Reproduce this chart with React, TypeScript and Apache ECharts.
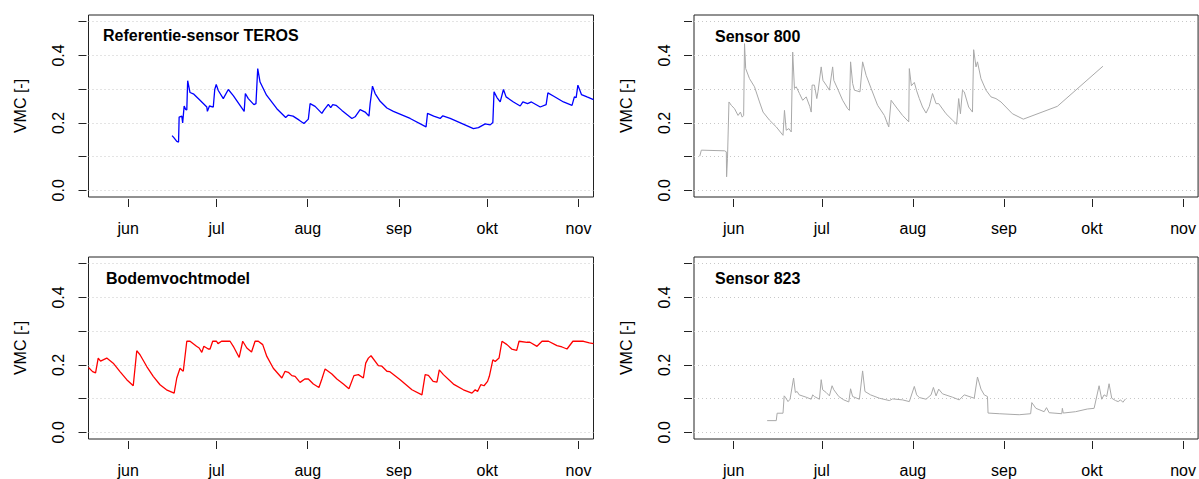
import React, { useEffect, useRef } from "react";
import * as echarts from "echarts";

const monthLabels = ["jun", "jul", "aug", "sep", "okt", "nov"];
// first day of each month, counted in days after 1 June
const monthStartDays = [0, 30, 61, 92, 122, 153];
const yTickValues = [0, 0.1, 0.2, 0.3, 0.4, 0.5];
const yLabelValues = [0, 0.2, 0.4];
const titles = ["Referentie-sensor TEROS", "Sensor 800", "Bodemvochtmodel", "Sensor 823"];
const yAxisTitle = "VMC [-]";

// [days after 1 June, VMC]
const teros: [number, number][] = [
  [14.9, 0.162], [15.5, 0.156], [16.5, 0.145], [17.1, 0.143], [17.3, 0.217], [18.2, 0.22], [18.5, 0.2],
  [19.0, 0.25], [19.5, 0.24], [19.9, 0.238], [20.2, 0.325], [21.0, 0.29], [22.3, 0.285], [24.4, 0.267],
  [26.7, 0.247], [26.9, 0.234], [27.6, 0.25], [28.9, 0.247], [29.4, 0.299], [29.9, 0.314], [30.6, 0.296],
  [32.3, 0.272], [34.0, 0.299], [35.7, 0.281], [39.4, 0.234], [39.8, 0.287], [40.8, 0.272], [42.7, 0.254],
  [43.4, 0.257], [44.0, 0.361], [44.8, 0.321], [47.0, 0.282], [50.5, 0.242], [53.5, 0.216], [54.4, 0.223],
  [56.0, 0.22], [58.1, 0.208], [59.7, 0.198], [61.2, 0.211], [61.8, 0.257], [63.5, 0.249], [65.8, 0.228],
  [66.5, 0.238], [68.0, 0.255], [68.8, 0.245], [69.5, 0.254], [70.6, 0.252], [72.6, 0.237], [76.0, 0.213],
  [77.1, 0.218], [78.8, 0.239], [80.5, 0.232], [81.8, 0.22], [82.2, 0.257], [83.0, 0.309], [83.9, 0.287],
  [85.6, 0.264], [87.9, 0.244], [90.1, 0.234], [95.8, 0.213], [101.2, 0.188], [101.7, 0.228], [103.8, 0.22],
  [106.0, 0.213], [106.9, 0.221], [109.4, 0.213], [117.3, 0.183], [119.0, 0.186], [121.3, 0.197],
  [123.0, 0.194], [123.9, 0.201], [124.3, 0.292], [125.3, 0.275], [126.4, 0.262], [127.5, 0.299],
  [128.4, 0.277], [130.9, 0.262], [133.2, 0.25], [134.1, 0.262], [135.7, 0.257], [137.0, 0.262],
  [140.0, 0.247], [142.0, 0.254], [142.6, 0.289], [144.6, 0.279], [147.9, 0.262], [150.8, 0.252],
  [151.6, 0.277], [152.2, 0.275], [152.8, 0.312], [154.0, 0.284], [155.9, 0.277], [158.1, 0.269],
];

const sensor800: [number, number][] = [
  [-11.55, 0.101], [-11.0, 0.119], [-3.06, 0.117], [-2.5, 0.114], [-2.4, 0.04], [-2.1, 0.095], [-1.6, 0.262],
  [-0.8, 0.252], [0.3, 0.242], [1.5, 0.222], [2.3, 0.232], [2.9, 0.217], [3.4, 0.222], [3.7, 0.435],
  [4.1, 0.361], [5.4, 0.331], [7.1, 0.307], [8.8, 0.262], [10.0, 0.232], [12.2, 0.208], [14.5, 0.188],
  [16.8, 0.163], [17.3, 0.237], [17.9, 0.178], [18.8, 0.183], [19.6, 0.173], [20.1, 0.41], [20.7, 0.302],
  [21.3, 0.307], [22.4, 0.287], [23.5, 0.267], [24.7, 0.277], [25.9, 0.249], [26.4, 0.232], [26.7, 0.312],
  [27.5, 0.312], [28.3, 0.272], [28.7, 0.292], [29.8, 0.366], [30.4, 0.326], [31.5, 0.312], [32.6, 0.297],
  [33.2, 0.336], [33.7, 0.366], [34.1, 0.326], [35.6, 0.297], [37.1, 0.267], [38.8, 0.242], [39.4, 0.237],
  [39.8, 0.381], [40.5, 0.317], [41.1, 0.297], [43.0, 0.292], [43.9, 0.381], [45.1, 0.341], [46.8, 0.302],
  [49.0, 0.252], [51.3, 0.222], [52.8, 0.188], [53.6, 0.267], [55.3, 0.247], [57.5, 0.222], [59.6, 0.203],
  [59.8, 0.361], [60.5, 0.31], [61.5, 0.32], [62.3, 0.295], [63.2, 0.272], [64.3, 0.247], [65.5, 0.229],
  [66.6, 0.249], [67.7, 0.287], [68.9, 0.257], [69.8, 0.257], [72.3, 0.227], [74.5, 0.208], [75.9, 0.196],
  [76.6, 0.272], [77.2, 0.227], [77.9, 0.297], [78.5, 0.292], [80.0, 0.247], [81.3, 0.232], [81.7, 0.417],
  [82.5, 0.366], [83.0, 0.381], [84.2, 0.331], [85.9, 0.297], [87.6, 0.277], [89.3, 0.272], [91.0, 0.262],
  [94.9, 0.227], [98.6, 0.211], [110.2, 0.249], [125.7, 0.368],
];

const model: [number, number][] = [
  [-13.5, 0.192], [-12.1, 0.18], [-11.1, 0.176], [-10.2, 0.22], [-9.4, 0.211], [-7.3, 0.22], [-5.1, 0.205],
  [-2.8, 0.18], [-0.5, 0.156], [1.7, 0.138], [2.9, 0.242], [4.0, 0.23], [6.3, 0.195], [8.5, 0.166],
  [10.8, 0.141], [13.0, 0.126], [15.6, 0.116], [16.5, 0.161], [17.6, 0.19], [18.2, 0.185], [18.7, 0.181],
  [19.9, 0.27], [21.0, 0.27], [23.2, 0.255], [24.1, 0.25], [25.0, 0.237], [25.7, 0.255], [27.2, 0.247],
  [27.8, 0.247], [28.7, 0.27], [30.0, 0.27], [30.5, 0.263], [31.7, 0.27], [34.6, 0.27], [35.7, 0.255],
  [37.7, 0.222], [38.9, 0.27], [40.3, 0.25], [41.9, 0.238], [43.1, 0.27], [44.2, 0.27], [45.7, 0.26],
  [47.1, 0.225], [49.3, 0.19], [52.2, 0.161], [53.3, 0.181], [54.4, 0.178], [55.6, 0.168], [56.7, 0.166],
  [58.1, 0.151], [58.4, 0.148], [60.0, 0.158], [61.2, 0.158], [62.9, 0.143], [64.8, 0.133], [65.8, 0.158],
  [66.9, 0.188], [69.2, 0.173], [70.9, 0.158], [73.1, 0.143], [75.0, 0.129], [76.7, 0.168], [78.2, 0.171],
  [79.9, 0.161], [80.7, 0.205], [81.6, 0.22], [82.5, 0.227], [85.0, 0.198], [86.2, 0.196], [87.9, 0.181],
  [88.8, 0.18], [92.4, 0.156], [96.4, 0.126], [99.8, 0.111], [100.9, 0.171], [102.0, 0.169], [103.6, 0.151],
  [104.9, 0.149], [105.7, 0.185], [107.1, 0.171], [110.5, 0.143], [113.9, 0.126], [116.8, 0.116],
  [117.9, 0.126], [118.7, 0.121], [119.8, 0.141], [120.9, 0.138], [122.1, 0.151], [122.7, 0.166],
  [123.9, 0.215], [124.7, 0.21], [126.0, 0.22], [127.0, 0.27], [128.7, 0.26], [130.3, 0.247], [132.0, 0.243],
  [132.8, 0.27], [135.5, 0.267], [136.5, 0.267], [138.9, 0.255], [140.6, 0.27], [142.8, 0.27],
  [145.7, 0.257], [147.4, 0.253], [149.1, 0.247], [151.1, 0.27], [154.7, 0.27], [156.7, 0.265], [158.1, 0.263],
];

const sensor823: [number, number][] = [
  [11.4, 0.0345], [14.5, 0.0345], [14.8, 0.0565], [16.8, 0.0565], [17.2, 0.108], [17.6, 0.104], [18.5, 0.091],
  [19.2, 0.098], [20.4, 0.161], [21.0, 0.118], [21.6, 0.121], [22.3, 0.111], [24.7, 0.104], [26.4, 0.098],
  [26.9, 0.111], [27.5, 0.106], [29.2, 0.098], [29.8, 0.156], [30.3, 0.126], [31.5, 0.118], [32.6, 0.108],
  [33.5, 0.138], [34.1, 0.126], [35.8, 0.106], [37.5, 0.096], [39.2, 0.09], [39.8, 0.129], [40.5, 0.106],
  [42.8, 0.098], [43.9, 0.182], [44.7, 0.121], [46.6, 0.111], [49.6, 0.101], [53.0, 0.094], [54.1, 0.099],
  [57.5, 0.096], [59.8, 0.091], [61.5, 0.136], [62.3, 0.111], [63.2, 0.103], [65.5, 0.098], [67.2, 0.111],
  [68.0, 0.133], [68.9, 0.108], [69.8, 0.128], [71.1, 0.114], [74.5, 0.104], [76.8, 0.096], [78.5, 0.111],
  [81.9, 0.101], [83.0, 0.164], [84.2, 0.128], [85.3, 0.111], [86.4, 0.106], [86.6, 0.057], [90.4, 0.055],
  [97.2, 0.052], [101.1, 0.055], [101.5, 0.088], [102.9, 0.071], [105.7, 0.061], [106.5, 0.073],
  [107.4, 0.058], [111.7, 0.055], [111.9, 0.071], [112.2, 0.057], [116.4, 0.061], [120.4, 0.069],
  [122.7, 0.071], [124.4, 0.138], [125.3, 0.098], [126.1, 0.111], [127.0, 0.106], [127.8, 0.144],
  [128.7, 0.101], [130.0, 0.094], [130.9, 0.091], [131.7, 0.096], [132.5, 0.089], [133.4, 0.099],
];

const FONT = "'Liberation Sans', Arial, Helvetica, sans-serif";

const panels = [
  { data: teros, color: "#0000ff", width: 1.3, left: 88.5, top: 15, w: 505, titleLeft: 103, titleTop: 27 },
  { data: sensor800, color: "#a9a9a9", width: 1, left: 694, top: 15, w: 507, titleLeft: 715, titleTop: 28 },
  { data: model, color: "#ff0000", width: 1.3, left: 88.5, top: 257, w: 505, titleLeft: 106, titleTop: 270 },
  { data: sensor823, color: "#a9a9a9", width: 1, left: 694, top: 257, w: 507, titleLeft: 715, titleTop: 270 },
];

export default function App() {
  const ref = useRef<HTMLDivElement>(null);
  useEffect(() => {
    if (!ref.current) return;
    const chart = echarts.init(ref.current, null, { renderer: "svg" });
    const option: any = {
      animation: false,
      backgroundColor: "#ffffff",
      title: panels.map((p, i) => ({
        text: titles[i],
        left: p.titleLeft,
        top: p.titleTop,
        padding: 0,
        textStyle: { fontSize: 16, fontWeight: "bold", color: "#000", fontFamily: FONT },
      })),
      grid: panels.map((p) => ({
        left: p.left,
        top: p.top,
        width: p.w,
        height: 182,
        show: true,
        borderColor: "#222",
        borderWidth: 1,
        backgroundColor: "transparent",
        containLabel: false,
      })),
      xAxis: panels.map((_, i) => ({
        gridIndex: i,
        type: "value",
        position: "bottom",
        min: -13.5,
        max: 158.1,
        offset: 2,
        axisLine: { show: false, onZero: false },
        axisTick: { show: true, customValues: monthStartDays, length: 8, lineStyle: { color: "#222" } },
        axisLabel: {
          customValues: monthStartDays,
          formatter: (v: number) => monthLabels[monthStartDays.indexOf(v)] ?? "",
          margin: 21,
          color: "#000",
          fontSize: 16,
          fontFamily: FONT,
        },
        splitLine: { show: false },
      })),
      yAxis: panels.map((_, i) => ({
        gridIndex: i,
        type: "value",
        position: "left",
        min: -0.02,
        max: 0.52,
        offset: 2,
        axisLine: { show: false, onZero: false },
        axisTick: { show: true, customValues: yTickValues, length: 8, lineStyle: { color: "#222" } },
        axisLabel: {
          customValues: yLabelValues,
          rotate: 90,
          margin: 20,
          formatter: (v: number) => v.toFixed(1),
          color: "#000",
          fontSize: 16,
          fontFamily: FONT,
        },
        splitLine: { show: false },
        name: yAxisTitle,
        nameLocation: "middle",
        nameRotate: 90,
        nameGap: 58,
        nameTextStyle: { fontSize: 16, color: "#000", fontFamily: FONT },
      })),
      series: panels.map((p, i) => ({
        type: "line",
        xAxisIndex: i,
        yAxisIndex: i,
        data: p.data,
        showSymbol: false,
        symbol: "none",
        z: 3,
        lineStyle: { color: p.color, width: p.width },
        markLine: {
          silent: true,
          z: 1,
          symbol: "none",
          label: { show: false },
          lineStyle: { type: [1, 3], color: "#c8c8c8", width: 1 },
          data: yTickValues.map((v) => ({ yAxis: v })),
        },
      })),
    };
    chart.setOption(option);
    return () => chart.dispose();
  }, []);
  return (
    <div
      ref={ref}
      style={{ position: "fixed", left: 0, top: 0, width: 1199, height: 479 }}
    />
  );
}
